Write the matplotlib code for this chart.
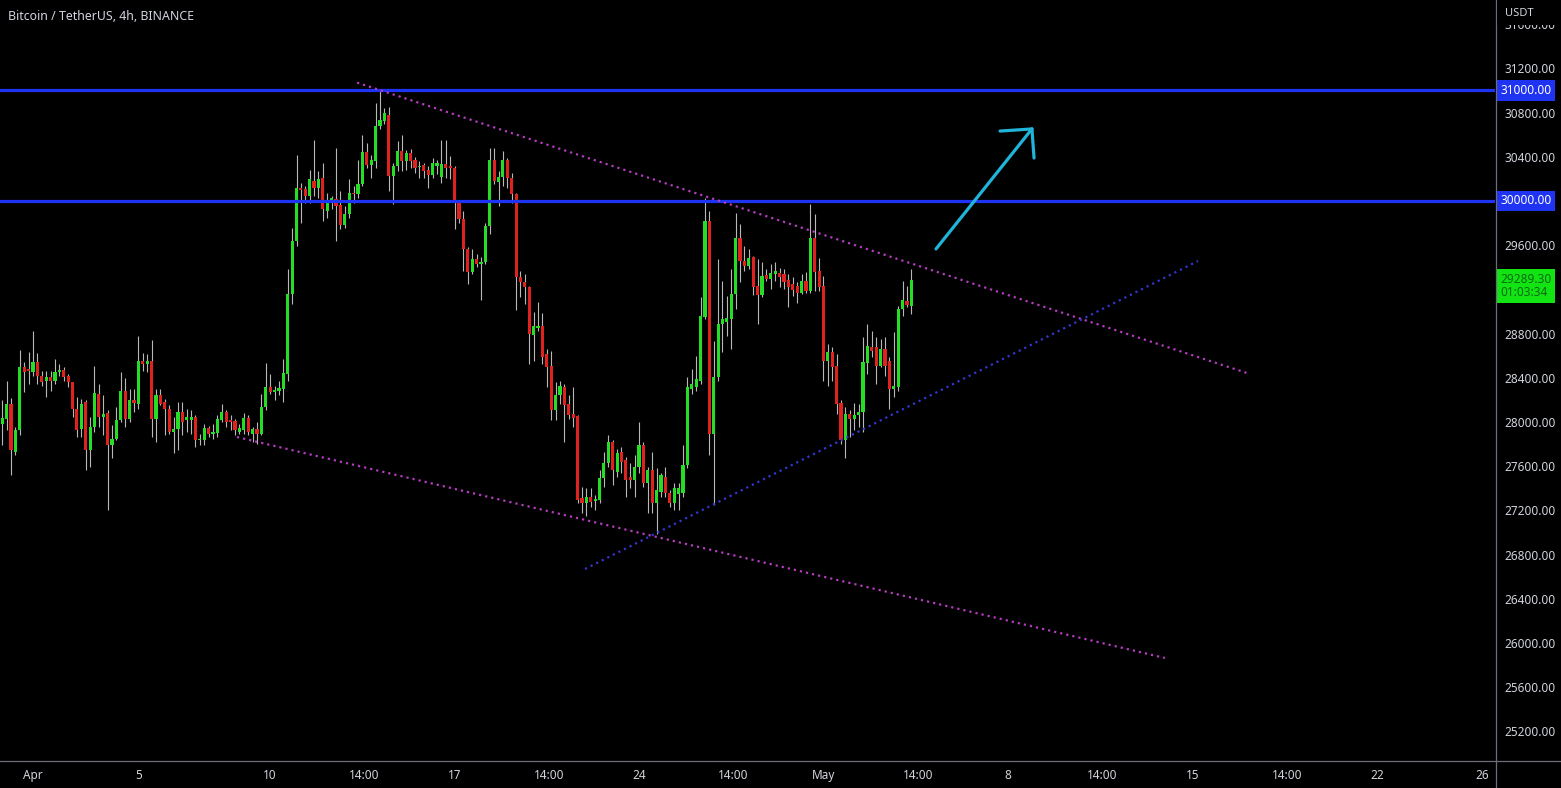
import numpy as np
import pandas as pd
import matplotlib
matplotlib.use("Agg")
import matplotlib.pyplot as plt
from matplotlib.transforms import blended_transform_factory
from matplotlib.lines import Line2D
from matplotlib.patches import Rectangle

plt.rcParams['font.family'] = ['Noto Sans', 'DejaVu Sans']

# ---- BTC/USDT 4h candles (Mar 30 20:00 -> May 4 08:00) ----
opens = [
    27985, 28030, 28165, 27730, 27925, 28495, 28480, 28450, 28540, 28420,
    28370, 28405, 28375, 28450, 28470, 28420, 28360, 28120, 27940, 28180,
    27745, 27955, 28255, 28045, 28080, 27790, 27850, 28020, 28285, 28030,
    28195, 28165, 28550, 28525, 28555, 28030, 28240, 28180, 28120, 27910,
    27940, 28090, 28015, 28015, 28045, 27835, 27835, 27950, 27895, 27900,
    28015, 28090, 28015, 28005, 27910, 27930, 28035, 27895, 27940, 27895,
    28140, 28320, 28275, 28285, 28300, 28435, 29160, 29640, 30115, 30105,
    30045, 30185, 30120, 30205, 29910, 29985, 30015, 29965, 29785, 29880,
    30075, 30060, 30150, 30445, 30330, 30360, 30675, 30720, 30780, 30225,
    30315, 30455, 30360, 30435, 30375, 30305, 30330, 30285, 30235, 30320,
    30215, 30335, 30315, 30300, 29985, 29835, 29565, 29355, 29475, 29430,
    29450, 29775, 30375, 30175, 30215, 30375, 30210, 30065, 29310, 29265,
    29220, 28790, 28850, 28870, 28615, 28510, 28105, 28240, 28320, 28165,
    28075, 28050, 27310, 27265, 27325, 27285, 27295, 27490, 27625, 27815,
    27550, 27730, 27655, 27505, 27475, 27595, 27790, 27445, 27565, 27265,
    27370, 27505, 27355, 27265, 27350, 27355, 27610, 28300, 28315, 28375,
    28950, 29820, 27890, 28405, 28885, 28905, 28935, 29158, 29669, 29460,
    29415, 29490, 29235, 29145, 29330, 29295, 29340, 29350, 29340, 29285,
    29250, 29230, 29170, 29280, 29185, 29665, 29370, 29235, 28555, 28630,
    28510, 28170, 27835, 28075, 28030, 28060, 28090, 28530, 28675, 28675,
    28510, 28660, 28555, 28300, 28315, 29020, 29095, 29050,
]
highs = [
    28195, 28375, 28220, 27955, 28650, 28540, 28630, 28820, 28625, 28465,
    28465, 28465, 28570, 28525, 28495, 28435, 28365, 28225, 28210, 28195,
    28045, 28505, 28345, 28240, 28105, 27970, 28135, 28450, 28400, 28300,
    28300, 28775, 28625, 28615, 28745, 28300, 28300, 28210, 28150, 28045,
    28180, 28180, 28120, 28110, 28060, 27895, 27985, 27960, 27985, 28060,
    28165, 28110, 28060, 28030, 27985, 28080, 28065, 27955, 28000, 28250,
    28530, 28435, 28330, 28375, 28570, 29385, 29760, 30420, 30165, 30135,
    30285, 30555, 30270, 30345, 30075, 30045, 30480, 30090, 29955, 30195,
    30135, 30375, 30595, 30525, 30420, 30885, 30995, 30840, 30855, 30345,
    30540, 30600, 30465, 30475, 30395, 30360, 30345, 30315, 30390, 30375,
    30555, 30555, 30405, 30315, 30000, 29910, 29580, 29565, 29520, 29490,
    29805, 30480, 30480, 30270, 30450, 30390, 30255, 30075, 29370, 29340,
    29235, 28995, 29085, 28985, 28660, 28645, 28360, 28375, 28345, 28240,
    28315, 28060, 27415, 27400, 27400, 27340, 27565, 27730, 27880, 27835,
    27760, 27775, 27685, 27625, 27700, 28000, 27820, 27595, 27730, 27580,
    27535, 27595, 27385, 27445, 27445, 27790, 28405, 28480, 28600, 29130,
    30030, 29905, 28735, 29475, 29280, 29140, 29385, 29895, 29790, 29595,
    29565, 29505, 29475, 29445, 29385, 29430, 29450, 29390, 29385, 29340,
    29310, 29265, 29340, 29355, 29970, 29880, 29480, 29325, 28705, 28675,
    28615, 28195, 28135, 28105, 28170, 28165, 28765, 28885, 28820, 28765,
    28750, 28765, 28585, 28810, 29050, 29280, 29235, 29385,
]
lows = [
    27790, 27925, 27520, 27700, 27880, 28270, 28345, 28420, 28345, 28330,
    28225, 28285, 28345, 28420, 28375, 28315, 28045, 27865, 27865, 27565,
    27595, 27910, 27955, 27880, 27205, 27670, 27835, 28000, 27955, 28000,
    28090, 28120, 28465, 28450, 27865, 27820, 28150, 27880, 27895, 27715,
    27745, 27880, 27910, 27895, 27775, 27790, 27790, 27865, 27850, 27865,
    28000, 27955, 27925, 27880, 27895, 27895, 27880, 27820, 27805, 27880,
    28105, 28255, 28195, 28240, 28180, 28375, 29070, 29595, 29805, 29985,
    29985, 30045, 30030, 29820, 29850, 29925, 29640, 29745, 29760, 29850,
    29985, 30030, 30135, 30300, 30210, 30300, 30650, 30700, 30090, 29970,
    30270, 30270, 30285, 30300, 30255, 30210, 30210, 30120, 30210, 30240,
    30165, 30210, 30195, 29745, 29805, 29370, 29250, 29340, 29400, 29100,
    29430, 29700, 30150, 29955, 30135, 30120, 29985, 29010, 29130, 29070,
    28525, 28555, 28825, 28525, 28315, 28015, 28015, 28165, 27820, 28030,
    27955, 27265, 27175, 27145, 27235, 27205, 27265, 27415, 27595, 27430,
    27505, 27535, 27325, 27400, 27325, 27535, 27415, 27175, 27175, 26990,
    27325, 27325, 27235, 27205, 27205, 27325, 27580, 28255, 28285, 28345,
    28935, 27700, 27250, 28375, 28630, 28780, 28665, 29025, 29265, 29370,
    29385, 29145, 28890, 29130, 29280, 29200, 29280, 29225, 29200, 29040,
    29140, 29080, 29155, 29170, 29170, 29185, 29185, 28375, 28330, 28375,
    28075, 27805, 27670, 27865, 27925, 27955, 27910, 28435, 28585, 28345,
    28495, 28420, 28120, 28225, 28285, 28960, 29040, 28975,
]
closes = [
    28035, 28165, 27745, 27925, 28495, 28450, 28465, 28540, 28420, 28360,
    28405, 28375, 28450, 28470, 28410, 28360, 28120, 27925, 28165, 27745,
    27955, 28260, 28045, 28075, 27790, 27850, 28020, 28285, 28030, 28195,
    28170, 28550, 28525, 28555, 28030, 28240, 28165, 28120, 27910, 27940,
    28090, 28000, 28045, 28045, 27835, 27850, 27950, 27895, 27910, 28025,
    28090, 28000, 28000, 27925, 27950, 28035, 27910, 27940, 27895, 28140,
    28320, 28270, 28290, 28305, 28440, 29160, 29640, 30115, 30095, 30045,
    30195, 30120, 30195, 29925, 29985, 30030, 29955, 29785, 29880, 30075,
    30060, 30155, 30445, 30330, 30375, 30675, 30735, 30795, 30225, 30315,
    30455, 30360, 30435, 30365, 30300, 30320, 30270, 30235, 30345, 30345,
    30335, 30300, 30295, 29985, 29835, 29565, 29355, 29475, 29430, 29450,
    29775, 30375, 30180, 30215, 30375, 30210, 30065, 29310, 29265, 29220,
    28795, 28865, 28865, 28585, 28495, 28105, 28240, 28330, 28150, 28060,
    28040, 27295, 27265, 27325, 27280, 27300, 27490, 27625, 27815, 27565,
    27715, 27640, 27475, 27475, 27595, 27790, 27445, 27565, 27265, 27385,
    27520, 27355, 27265, 27400, 27400, 27610, 28315, 28345, 28390, 28960,
    29820, 27890, 28405, 28885, 28930, 28945, 29158, 29669, 29460, 29415,
    29485, 29220, 29145, 29325, 29295, 29345, 29370, 29315, 29265, 29225,
    29190, 29170, 29280, 29185, 29665, 29355, 29225, 28555, 28630, 28495,
    28165, 27835, 28075, 28030, 28060, 28090, 28540, 28690, 28645, 28510,
    28660, 28510, 28300, 28330, 29020, 29100, 29060, 29289.3,
]

# ---- axis labels (30000 and 29200 sit under the level / last-price tags) ----
price_ticks = [25200, 25600, 26000, 26400, 26800, 27200, 27600, 28000, 28400,
               28800, 29600, 30400, 30800, 31200, 31600]
date_tick_times = ["2023-04-01 00:00", "2023-04-05 00:00", "2023-04-10 00:00",
                   "2023-04-13 14:00", "2023-04-17 00:00", "2023-04-20 14:00",
                   "2023-04-24 00:00", "2023-04-27 14:00", "2023-05-01 00:00",
                   "2023-05-04 14:00", "2023-05-08 00:00", "2023-05-11 14:00",
                   "2023-05-15 00:00", "2023-05-18 14:00", "2023-05-22 00:00",
                   "2023-05-26 00:00"]
date_tick_labels = ["Apr", "5", "10", "14:00", "17", "14:00", "24", "14:00",
                    "May", "14:00", "8", "14:00", "15", "14:00", "22", "26"]

# ---- drawings (day offsets from Apr 1, prices) ----
levels = [31000, 30000]
upper_trend_days, upper_trend_prices = [12.30, 46.19], [31071, 28434]
lower_trend_days, lower_trend_prices = [7.74, 42.96], [27864, 25864]
support_days, support_prices = [20.95, 44.21], [26670, 29457]
arrow_days, arrow_prices = [34.27, 37.91], [29566, 30652]
arrow_wing_days, arrow_wing_prices = [36.70, 37.99], [30633, 30389]

last_price = closes[-1]
countdown = "01:03:34"

# ---- styling ----
BG = "#000000"
UP = "#25dd25"
DOWN = "#e0221e"
WICK = "#b8b8b8"
TEXT = "#d1d4dc"
AXLINE = "#6b6e78"
LEVEL = "#1f33f2"
TREND = "#b43cbf"
SUPPORT = "#3535cf"
ARROW = "#20b4d8"

origin = pd.Timestamp("2023-04-01")
bar_times = pd.date_range("2023-03-30 20:00", periods=len(opens), freq="4h")
x = ((bar_times - origin) / pd.Timedelta(days=1)).to_numpy()
tick_times = pd.to_datetime(date_tick_times, format="%Y-%m-%d %H:%M")
tick_x = ((tick_times - origin) / pd.Timedelta(days=1)).to_numpy()

o = np.array(opens, float)
h = np.array(highs, float)
l = np.array(lows, float)
c = np.array(closes, float)
up = c >= o

W, H = 1561, 788
fig = plt.figure(figsize=(W / 100, H / 100), dpi=100, facecolor=BG)
ax_left, ax_bottom = 0.0, 27 / H
ax_w, ax_h = 1495 / W, 761 / H
ax = fig.add_axes([ax_left, ax_bottom, ax_w, ax_h], facecolor=BG)

# candles
ax.vlines(x, l, h, color=WICK, lw=0.8, zorder=2)
body_lo = np.minimum(o, c)
body_h = np.maximum(np.abs(c - o), 12)
ax.bar(x, body_h, bottom=body_lo, width=0.72 / 6,
       color=np.where(up, UP, DOWN), linewidth=0, zorder=3)

# horizontal levels
for lv in levels:
    ax.axhline(lv, color=LEVEL, lw=2.3, zorder=5)

# trend lines
dots = (0, (1, 1.8))
ax.plot(upper_trend_days, upper_trend_prices, color=TREND, lw=1.6, ls=dots, zorder=6)
ax.plot(lower_trend_days, lower_trend_prices, color=TREND, lw=1.6, ls=dots, zorder=6)
ax.plot(support_days, support_prices, color=SUPPORT, lw=1.6, ls=dots, zorder=6)

# arrow
ax.plot(arrow_days, arrow_prices, color=ARROW, lw=2.3, solid_capstyle='round', zorder=7)
for wd, wp in zip(arrow_wing_days, arrow_wing_prices):
    ax.plot([arrow_days[1], wd], [arrow_prices[1], wp], color=ARROW, lw=2.3,
            solid_capstyle='round', zorder=7)

ax.set_xlim(-33 / 26.35, (1495 - 33) / 26.35)
ax.set_ylim(24932, 31819)

for s in ax.spines.values():
    s.set_visible(False)

ax.yaxis.tick_right()
ax.set_yticks(price_ticks)
ax.set_yticklabels([f"{v:.2f}" for v in price_ticks])
ax.tick_params(axis='y', length=0, pad=6.5, labelcolor=TEXT, labelsize=8.5)
ax.set_xticks(tick_x)
ax.set_xticklabels(date_tick_labels)
ax.tick_params(axis='x', length=0, pad=5.5, labelcolor=TEXT, labelsize=8.5)

# price tags on the scale
trans = blended_transform_factory(ax.transAxes, ax.transData)
for lv in levels:
    ax.text(1.0037, lv, f"{lv:.2f}", transform=trans, ha='left', va='center',
            color='white', fontsize=8.5, clip_on=False, zorder=10,
            bbox=dict(boxstyle='square,pad=0.3', fc=LEVEL, ec='none'))
ax.annotate(f"{last_price:.2f}\n{countdown}", xy=(1.0037, last_price), xycoords=trans,
            xytext=(0, -4.6), textcoords='offset points', ha='left', va='center',
            color='#0b6b12', fontsize=8.5, linespacing=1.05, annotation_clip=False,
            zorder=10, bbox=dict(boxstyle='square,pad=0.3', fc='#12e312', ec='none'))

# panel separators
fig.add_artist(Line2D([1495.5 / W, 1495.5 / W], [0, 1], color=AXLINE, lw=0.9, zorder=4))
fig.add_artist(Line2D([0, 1], [ax_bottom, ax_bottom], color=AXLINE, lw=0.9, zorder=4))

# currency header on the price scale (hides the upper part of the top label)
fig.add_artist(Rectangle((1497 / W, 1 - 25 / H), 1 - 1497 / W, 25 / H,
                         transform=fig.transFigure, fc=BG, ec='none', zorder=5))
fig.text(1505 / W, 1 - 13 / H, "USDT", color=TEXT, fontsize=8, ha='left',
         va='center', zorder=6)

fig.text(8 / W, 1 - 16 / H, "Bitcoin / TetherUS, 4h, BINANCE", color=TEXT,
         fontsize=8.9, ha='left', va='center', zorder=6)

fig.savefig("out.png", dpi=100, facecolor=BG)
